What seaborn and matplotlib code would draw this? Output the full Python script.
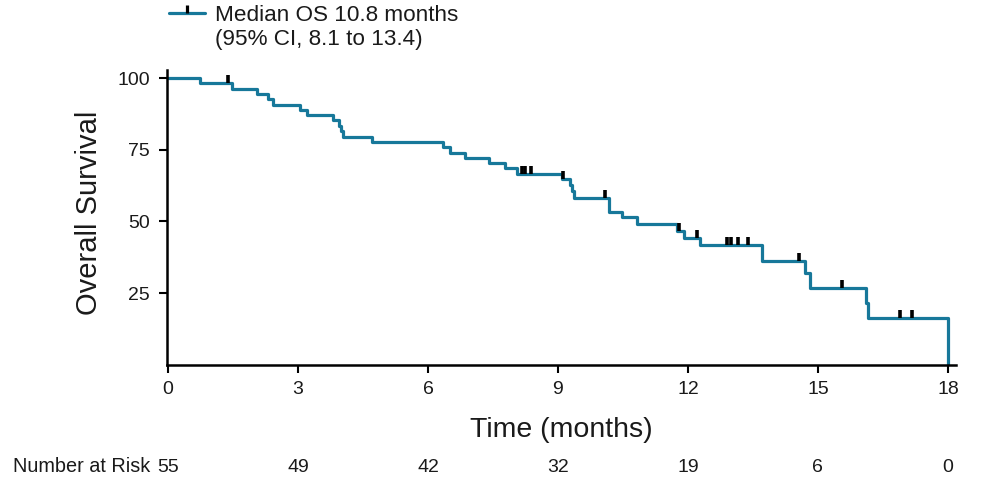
import matplotlib
matplotlib.use('Agg')
import matplotlib.pyplot as plt
import matplotlib.transforms as mtransforms
from matplotlib.lines import Line2D
import pandas as pd
import seaborn as sns

# Kaplan-Meier steps (time in months, survival in %)
event_times = [0, 0.74, 1.47, 2.05, 2.31, 2.42, 3.05, 3.2, 3.8, 3.95, 4.0, 4.03,
               4.7, 6.35, 6.5, 6.85, 7.42, 7.78, 8.05, 9.1, 9.27, 9.32, 9.36,
               10.17, 10.48, 10.83, 11.74, 11.9, 12.28, 13.72, 14.7, 14.82,
               16.1, 16.15, 18.0]
event_surv = [100, 98.2, 96.3, 94.4, 92.6, 90.7, 88.9, 87.0, 85.2, 83.3, 81.5, 79.6,
              77.7, 75.8, 74.0, 72.2, 70.3, 68.5, 66.6, 64.7, 62.7, 60.5, 58.2,
              53.4, 51.4, 49.1, 46.6, 44.3, 41.8, 36.0, 31.9, 26.9,
              21.4, 16.2, 0]

# censored observations
censor_times = [1.38, 8.16, 8.25, 8.38, 9.12, 10.09, 11.8, 12.2, 12.9, 13.0,
                13.15, 13.39, 14.56, 15.56, 16.9, 17.18]
censor_surv = [98.2, 66.6, 66.6, 66.6, 64.7, 58.2, 46.6, 44.3, 41.8, 41.8,
               41.8, 41.8, 36.0, 26.9, 16.2, 16.2]

risk_times = [0, 3, 6, 9, 12, 15, 18]
risk_counts = [55, 49, 42, 32, 19, 6, 0]
y_ticks = [25, 50, 75, 100]

teal = '#17789a'

sns.set_style('ticks')
plt.rcParams['font.family'] = ['Liberation Sans', 'DejaVu Sans']

W, H = 1002, 493
fig = plt.figure(figsize=(W / 100, H / 100), dpi=100)
ax = fig.add_axes([166.7 / W, 128.3 / H, 789 / W, 294.7 / H])

km = pd.DataFrame({'Time': event_times, 'Survival': event_surv})
sns.lineplot(data=km, x='Time', y='Survival', drawstyle='steps-post',
             estimator=None, sort=False, color=teal, lw=2.3, ax=ax)

tick_marker = [(0, 0), (0, 1)]
sns.scatterplot(x=censor_times, y=censor_surv, marker=tick_marker, s=130,
                color='black', edgecolor='black', linewidth=2.6, zorder=3, ax=ax)

ax.set_xlim(-0.03, 18.18)
ax.set_ylim(0, 102.8)
ax.set_xticks(risk_times)
ax.set_yticks(y_ticks)
sns.despine(ax=ax)
for side in ['left', 'bottom']:
    ax.spines[side].set_linewidth(1.8)
    ax.spines[side].set_color('black')
ax.tick_params(direction='out', length=6, width=1.5, labelsize=14,
               color='black', labelcolor='#1a1a1a')
ax.tick_params(axis='x', pad=6)
ax.tick_params(axis='y', pad=6)

ax.set_xlabel('Time (months)', fontsize=20.5, color='#1a1a1a')
ax.xaxis.label.set_va('center')
ax.xaxis.set_label_coords(0.5, (364.7 - 430) / 294.7)
ax.set_ylabel('Overall Survival', fontsize=21, color='#1a1a1a')
ax.yaxis.label.set_va('center')
ax.yaxis.set_label_coords((89 - 166.7) / 789, 0.515)

# legend
h1 = Line2D([], [], color=teal, lw=2.3, marker=tick_marker, markersize=11,
            markeredgewidth=2.3, markeredgecolor='black')
h2 = Line2D([], [], color='none')
ax.legend([h1, h2], ['Median OS 10.8 months', '(95% CI, 8.1 to 13.4)'],
          loc='upper left', bbox_to_anchor=(169 / W, 1 - 5 / H),
          bbox_transform=fig.transFigure, frameon=False, fontsize=16.2,
          handlelength=1.6, handletextpad=0.45, borderpad=0, borderaxespad=0,
          labelspacing=0.12, labelcolor='#1a1a1a')

# number at risk row
trans = mtransforms.blended_transform_factory(ax.transData, ax.transAxes)
row_y = (364.7 - 467) / 294.7
for t, n in zip(risk_times, risk_counts):
    ax.text(t, row_y, str(n), transform=trans, ha='center', va='center',
            fontsize=14, color='#1a1a1a')
fig.text(150 / W, 1 - 467 / H, 'Number at Risk', ha='right', va='center',
         fontsize=14.3, color='#1a1a1a')

fig.savefig('out.png', dpi=100)
